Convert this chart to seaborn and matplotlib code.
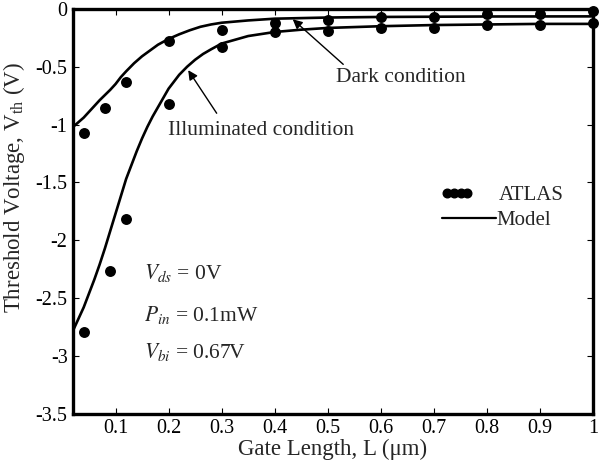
import matplotlib
matplotlib.use("Agg")
import matplotlib.pyplot as plt
import seaborn as sns
import pandas as pd
from matplotlib.lines import Line2D

# ---- data ----
dark_atlas_L = [0.04, 0.08, 0.12, 0.20, 0.30, 0.40, 0.50, 0.60, 0.70, 0.80, 0.90, 1.00]
dark_atlas_V = [-1.07, -0.86, -0.63, -0.28, -0.18, -0.12, -0.10, -0.07, -0.07, -0.045, -0.045, -0.02]
illum_atlas_L = [0.04, 0.09, 0.12, 0.20, 0.30, 0.40, 0.50, 0.60, 0.70, 0.80, 0.90, 1.00]
illum_atlas_V = [-2.79, -2.27, -1.82, -0.82, -0.33, -0.20, -0.19, -0.165, -0.165, -0.14, -0.14, -0.125]

dark_model_L = [0.02, 0.03, 0.04, 0.05, 0.06, 0.07, 0.08, 0.09, 0.10, 0.11, 0.12, 0.135, 0.15,
                0.165, 0.18, 0.20, 0.22, 0.24, 0.26, 0.28, 0.30, 0.35, 0.40, 0.50, 0.60, 0.80, 1.00]
dark_model_V = [-1.02, -0.98, -0.94, -0.89, -0.84, -0.79, -0.745, -0.70, -0.65, -0.59, -0.54, -0.47, -0.41,
                -0.36, -0.31, -0.26, -0.22, -0.185, -0.155, -0.135, -0.12, -0.10, -0.085, -0.075, -0.07, -0.066, -0.065]
illum_model_L = [0.02, 0.03, 0.04, 0.05, 0.06, 0.07, 0.08, 0.09, 0.10, 0.11, 0.12, 0.13, 0.14, 0.15,
                 0.16, 0.17, 0.18, 0.19, 0.20, 0.21, 0.22, 0.235, 0.25, 0.265, 0.28, 0.30, 0.35, 0.40,
                 0.45, 0.50, 0.60, 0.70, 0.80, 0.90, 1.00]
illum_model_V = [-2.78, -2.68, -2.58, -2.46, -2.34, -2.21, -2.07, -1.92, -1.77, -1.62, -1.47, -1.35, -1.23, -1.12,
                 -1.02, -0.93, -0.85, -0.77, -0.69, -0.63, -0.57, -0.50, -0.44, -0.39, -0.35, -0.30, -0.235, -0.20,
                 -0.18, -0.165, -0.15, -0.14, -0.135, -0.13, -0.13]

x_ticks = [0.1, 0.2, 0.3, 0.4, 0.5, 0.6, 0.7, 0.8, 0.9, 1.0]
x_tick_labels = ["0.1", "0.2", "0.3", "0.4", "0.5", "0.6", "0.7", "0.8", "0.9", "1"]
y_ticks = [0, -0.5, -1, -1.5, -2, -2.5, -3, -3.5]
y_tick_labels = ["0", "-0.5", "-1", "-1.5", "-2", "-2.5", "-3", "-3.5"]

sns.set_style("ticks")
plt.rcParams["font.family"] = ["Liberation Serif", "DejaVu Serif"]
plt.rcParams["mathtext.fontset"] = "stix"
plt.rcParams["axes.unicode_minus"] = False

fig = plt.figure(figsize=(5.99, 4.66), dpi=100)
ax = fig.add_axes([0.122, 0.112, 0.868, 0.869])

atlas = pd.concat([
    pd.DataFrame({"L": dark_atlas_L, "V": dark_atlas_V, "cond": "dark"}),
    pd.DataFrame({"L": illum_atlas_L, "V": illum_atlas_V, "cond": "illum"}),
])
model = pd.concat([
    pd.DataFrame({"L": dark_model_L, "V": dark_model_V, "cond": "dark"}),
    pd.DataFrame({"L": illum_model_L, "V": illum_model_V, "cond": "illum"}),
])

sns.lineplot(data=model, x="L", y="V", units="cond", estimator=None, sort=False,
             color="black", lw=1.9, ax=ax, legend=False)
sns.scatterplot(data=atlas, x="L", y="V", color="black", s=62, edgecolor="black",
                linewidth=0, ax=ax, legend=False, clip_on=False, zorder=5)

ax.set_xlim(0.02, 1.0)
ax.set_ylim(-3.5, 0)
ax.set_xticks(x_ticks)
ax.set_xticklabels(x_tick_labels)
ax.set_yticks(y_ticks)
ax.set_yticklabels(y_tick_labels)
ax.tick_params(direction="in", length=4, width=0.8, top=True, right=True,
               labelsize=14.5, pad=4, colors="black")
for sp in ax.spines.values():
    sp.set_linewidth(2.4)
    sp.set_color("black")
    sp.set_visible(True)

ax.set_xlabel("Gate Length, L (\u03bcm)", fontsize=16.5, labelpad=0)
ax.set_ylabel(r"Threshold Voltage, V$_{\mathregular{th}}$ (V)", fontsize=16.5)
ax.yaxis.set_label_coords(-0.088, 0.56)

ax.annotate("Dark condition", xy=(0.434, -0.09), xytext=(0.515, -0.59),
            fontsize=15.5, va="center", ha="left",
            arrowprops=dict(arrowstyle="-|>", color="black", lw=1.0,
                            shrinkA=0, shrinkB=0, mutation_scale=14,
                            relpos=(0.07, 1.1)))
ax.annotate("Illuminated condition", xy=(0.237, -0.53), xytext=(0.1995, -1.05),
            fontsize=15.5, va="center", ha="left",
            arrowprops=dict(arrowstyle="-|>", color="black", lw=1.0,
                            shrinkA=0, shrinkB=0, mutation_scale=14,
                            relpos=(0.26, 1.4)))

ax.text(0.153, -2.28, r"$V_{ds}$ = 0V", fontsize=15.5, va="center", ha="left")
ax.text(0.153, -2.645, r"$P_{in}$ = 0.1mW", fontsize=15.5, va="center", ha="left")
ax.text(0.153, -2.97, r"$V_{bi}$ = 0.67V", fontsize=15.5, va="center", ha="left")

h_atlas = Line2D([], [], ls="none", marker="o", color="black", ms=6.2)
h_model = Line2D([], [], ls="-", color="black", lw=1.6)
leg1 = ax.legend([h_atlas], ["ATLAS"], loc="upper left", bbox_to_anchor=(0.692, 0.584),
                 frameon=False, numpoints=4, handlelength=1.55, handletextpad=1.2,
                 fontsize=15, borderaxespad=0)
ax.add_artist(leg1)
ax.legend([h_model], ["Model"], loc="upper left", bbox_to_anchor=(0.694, 0.522),
          frameon=False, handlelength=2.6, handletextpad=0.0,
          fontsize=15, borderaxespad=0)

fig.savefig("out.png", dpi=100)
